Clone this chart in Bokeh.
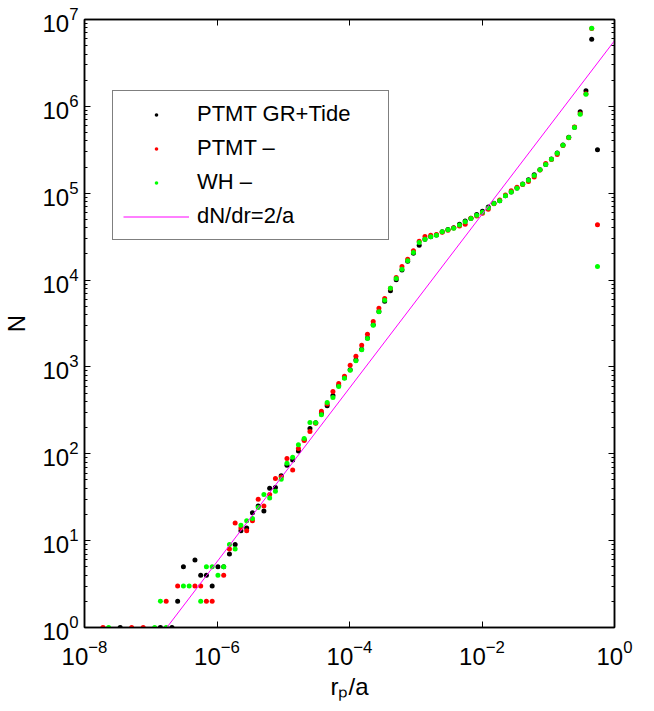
import math
from bokeh.plotting import figure
from bokeh.models import (ColumnDataSource, Range1d, LogAxis, FixedTicker,
                          Legend, LegendItem, LogTickFormatter)
from bokeh.embed import file_html
from bokeh.resources import INLINE

FONT = "Liberation Sans"

# ---------------- data ----------------
# bin centres, log10(r_p/a)
log_r = [-7.722, -7.635, -7.548, -7.462, -7.375, -7.288, -7.201, -7.114, -7.028, -6.941,
         -6.854, -6.767, -6.680, -6.594, -6.507, -6.420, -6.333, -6.246, -6.160, -6.073,
         -5.986, -5.899, -5.812, -5.726, -5.639, -5.552, -5.465, -5.378, -5.292, -5.205,
         -5.118, -5.031, -4.944, -4.858, -4.771, -4.684, -4.597, -4.510, -4.424, -4.337,
         -4.250, -4.163, -4.076, -3.990, -3.903, -3.816, -3.729, -3.642, -3.556, -3.469,
         -3.382, -3.295, -3.208, -3.122, -3.035, -2.948, -2.861, -2.774, -2.688, -2.601,
         -2.514, -2.427, -2.340, -2.254, -2.167, -2.080, -1.993, -1.906, -1.820, -1.733,
         -1.646, -1.559, -1.472, -1.386, -1.299, -1.212, -1.125, -1.038, -0.952, -0.865,
         -0.778, -0.691, -0.604, -0.518, -0.431, -0.344, -0.257]

N_ptmt_gr_tide = [None, None, None, 1, None, None, None, None, None, None,
                  1, None, 1, 2, 5, None, 6, 4, 4, 3,
                  5, 5, 7, 9, 13, 14, 21, 25, 22, 40,
                  41, 56, 74, 85, 108, 145, 195, 228, 290, 357,
                  470, 610, 750, 930, 1200, 1600, 2150, 3050, 4350, 5700,
                  7520, 10070, 13100, 16500, 20400, 25200, 29600, 31500, 33000, 36000,
                  38200, 40000, 44000, 47800, 51500, 56800, 62000, 69500, 76700, 82000,
                  93500, 103000, 114500, 127500, 143000, 163000, 186000, 214000, 247000, 290000,
                  358000, 440000, 575000, 865000, 1510000, 5930000, 316000]

N_ptmt = [1, None, None, None, None, 1, None, 1, None, None,
          None, 2, None, 3, None, None, 3, 3, 2, 2,
          None, 4, 8, 16, 14, 13, 17, 30, 25, 34,
          52, 54, 88, 65, 115, 142, 181, 225, 309, 375,
          521, 644, 782, 1047, 1328, 1780, 2380, 3335, 4745, 6135,
          8060, 10700, 14320, 17390, 21720, 28060, 31700, 32870, 33500, 35500,
          37500, 39800, 42000, 44000, 51500, 54500, 58800, 65500, 75500, 83500,
          95500, 106500, 117000, 126000, 136000, 154000, 185000, 220000, 245000, 280000,
          355000, 435000, 580000, 820000, 1400000, 7900000, 43300]

N_wh = [None, 1, None, None, None, None, None, None, None, 1,
        2, 1, None, None, 3, 3, None, 2, 5, 5,
        4, 5, 9, 8, 15, 17, 18, 24, 34, 31,
        37, 51, 78, 91, 127, 150, 229, 228, 281, 389,
        445, 595, 741, 917, 1175, 1574, 2125, 3023, 4310, 5860,
        8060, 10400, 13340, 16680, 20760, 27050, 29500, 31460, 32900, 35900,
        37900, 39500, 43200, 46900, 51200, 55800, 60500, 67500, 76000, 82000,
        93300, 103000, 114200, 127000, 141000, 160000, 186000, 214000, 246000, 289000,
        357000, 438000, 571000, 810000, 1380000, 7950000, 14300]

# reference line dN/dr = 2/a  (N proportional to r)
line_r = [1.75e-7, 1.0]
line_N = [1.0, 5.7e6]

series_labels = ["PTMT GR+Tide", "PTMT \u2013", "WH \u2013", "dN/dr=2/a"]
series_colors = ["#000000", "#FF0000", "#00FF00", "#FF00FF"]

x_tick_exps = [-8, -6, -4, -2, 0]
y_tick_exps = [0, 1, 2, 3, 4, 5, 6, 7]
x_title = "r\u209a/a"
y_title = "N"

# ---------------- figure ----------------
p = figure(x_axis_type="log", y_axis_type="log",
           x_range=Range1d(1e-8, 1.0), y_range=Range1d(1.0, 1e7),
           frame_width=530, frame_height=608,
           min_border_left=81, min_border_right=21, min_border_top=19, min_border_bottom=68,
           output_backend="svg", toolbar_location=None,
           background_fill_color="white", border_fill_color="white")
p.grid.visible = False
p.outline_line_color = "black"
p.outline_line_width = 1.5

x_major = [10.0 ** e for e in x_tick_exps]
y_major = [10.0 ** e for e in y_tick_exps]
y_minor = [m * 10.0 ** e for e in y_tick_exps[:-1] for m in range(2, 10)]

def style_axis(ax, ticker, show_labels):
    ax.ticker = ticker
    ax.axis_line_color = "black"
    ax.axis_line_width = 1.5
    ax.major_tick_in = 6
    ax.major_tick_out = 0
    ax.minor_tick_in = 3
    ax.minor_tick_out = 0
    ax.major_tick_line_color = "black"
    ax.minor_tick_line_color = "black"
    ax.major_tick_line_width = 1
    ax.minor_tick_line_width = 1
    if show_labels:
        ax.formatter = LogTickFormatter()
        ax.major_label_text_font = FONT
        ax.major_label_text_font_size = "24px"
        ax.major_label_text_color = "black"
        ax.axis_label_text_font = FONT
        ax.axis_label_text_font_size = "24px"
        ax.axis_label_text_font_style = "normal"
        ax.axis_label_text_color = "black"
    else:
        ax.axis_label = None
        ax.major_label_text_font_size = "0px"
        ax.major_label_text_color = None
        ax.major_label_standoff = 0

style_axis(p.xaxis[0], FixedTicker(ticks=x_major, minor_ticks=[]), True)
style_axis(p.yaxis[0], FixedTicker(ticks=y_major, minor_ticks=y_minor), True)
p.xaxis[0].axis_label = x_title
p.yaxis[0].axis_label = y_title
p.xaxis[0].major_label_standoff = 12
p.xaxis[0].axis_label_standoff = 5
p.yaxis[0].major_label_standoff = 6
p.yaxis[0].axis_label_standoff = 9

top_ax = LogAxis()
right_ax = LogAxis()
style_axis(top_ax, FixedTicker(ticks=x_major, minor_ticks=[]), False)
style_axis(right_ax, FixedTicker(ticks=y_major, minor_ticks=y_minor), False)
p.add_layout(top_ax, "above")
p.add_layout(right_ax, "right")

# ---------------- data glyphs ----------------
renderers = []
for vals, col in zip([N_ptmt_gr_tide, N_ptmt, N_wh], series_colors[:3]):
    xs = [10.0 ** lr for lr, v in zip(log_r, vals) if v is not None]
    ys = [v for v in vals if v is not None]
    src = ColumnDataSource(dict(x=xs, y=ys))
    r = p.scatter("x", "y", source=src, marker="circle", size=5,
                  fill_color=col, line_color=col, line_width=0)
    renderers.append(r)

rl = p.line(line_r, line_N, line_color=series_colors[3], line_width=1)
renderers.append(rl)

legend = Legend(items=[LegendItem(label=lab, renderers=[r]) for lab, r in zip(series_labels, renderers)],
                location=(28, 387), orientation="vertical",
                label_text_font=FONT, label_text_font_size="22px", label_text_color="black",
                glyph_width=66, glyph_height=9, label_height=25, label_width=181,
                label_standoff=8, padding=10, spacing=8, margin=0,
                border_line_color="black", border_line_width=1,
                background_fill_color="white", background_fill_alpha=1.0)
p.add_layout(legend, "center")

open("out.html", "w").write(file_html(p, INLINE))
